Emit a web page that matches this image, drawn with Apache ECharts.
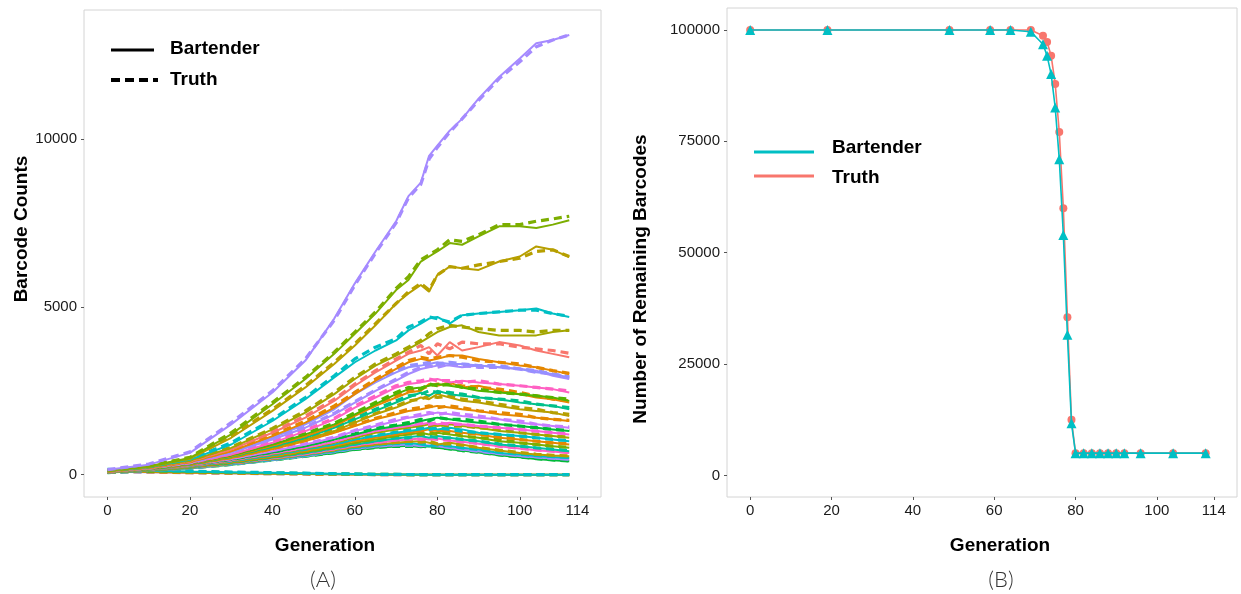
<!DOCTYPE html>
<html><head><meta charset="utf-8">
<script src="https://cdn.jsdelivr.net/npm/echarts@6/dist/echarts.min.js"></script>
<style>html,body{margin:0;padding:0;background:#fff}#c{width:1241px;height:594px}</style>
</head><body><div id="c"></div>
<script>
// ---------- Panel A data ----------
const generations = [0,10,20,30,40,48,55,60,65,70,73,76,78,80,83,86,90,95,100,104,108,112];
const barcodeColors = ['#A58AFF','#7CAE00','#B79F00','#00BFC4','#A3A500','#F8766D','#E58700','#9590FF','#A58AFF','#FF61C3','#53B400','#E58700','#00C08B','#B79F00','#E58700','#C77CFF','#00BA38','#FB61D7','#A3A500','#00BFC4','#E58700','#7CAE00','#00C1A3','#FF61C3','#B79F00','#00BFC4','#A58AFF','#00BA38','#00BFC4','#7CAE00','#E58700','#8F91FF'];
const bartenderCounts = [
 [150,300,650,1500,2450,3400,4650,5700,6650,7550,8300,8700,9500,9800,10250,10600,11200,11850,12400,12850,12950,13100],
 [130,250,500,1200,2100,2850,3600,4200,4800,5500,5800,6350,6500,6650,6900,6850,7100,7400,7400,7350,7450,7580],
 [120,240,480,1100,1900,2600,3300,3850,4450,5100,5400,5650,5450,5950,6200,6150,6100,6350,6500,6800,6700,6480],
 [120,230,450,900,1600,2250,2900,3350,3700,4000,4300,4500,4650,4700,4500,4750,4800,4850,4900,4950,4800,4700],
 [110,220,420,800,1350,1850,2400,2850,3250,3550,3750,3950,4100,4250,4400,4450,4250,4150,4150,4150,4250,4300],
 [110,210,400,750,1250,1700,2200,2650,3050,3400,3600,3700,3800,3550,3950,3700,3800,3950,3850,3700,3600,3500],
 [100,200,380,700,1150,1550,2000,2400,2800,3150,3350,3450,3400,3450,3550,3550,3450,3350,3250,3200,3100,3000],
 [100,200,370,680,1100,1500,1950,2400,2750,3050,3200,3250,3300,3350,3300,3300,3250,3200,3150,3050,3000,2900],
 [100,190,360,650,1050,1400,1800,2150,2500,2800,3000,3150,3200,3250,3250,3200,3250,3200,3150,3100,2950,2850],
 [100,190,350,600,950,1300,1650,2000,2300,2600,2700,2750,2800,2850,2750,2800,2750,2700,2650,2600,2550,2450],
 [95,180,340,580,900,1200,1500,1800,2100,2400,2550,2600,2650,2700,2650,2600,2500,2450,2400,2350,2300,2200],
 [95,180,330,560,870,1150,1450,1750,2050,2300,2450,2500,2700,2650,2750,2600,2650,2500,2400,2300,2250,2150],
 [90,170,320,540,830,1100,1400,1650,1900,2150,2300,2450,2350,2500,2400,2350,2300,2250,2150,2100,2050,1950],
 [90,170,310,520,800,1050,1300,1550,1800,2000,2150,2300,2250,2400,2300,2200,2150,2050,1950,1900,1850,1750],
 [90,165,300,500,760,1000,1250,1450,1650,1800,1900,1950,2000,2050,2000,1950,1900,1800,1750,1700,1650,1600],
 [85,160,290,470,700,900,1100,1300,1450,1600,1700,1750,1800,1850,1800,1750,1700,1650,1550,1500,1450,1400],
 [85,155,280,450,660,850,1050,1200,1350,1450,1500,1600,1650,1700,1650,1600,1550,1500,1450,1400,1350,1300],
 [85,150,270,430,630,800,980,1150,1300,1400,1450,1500,1550,1500,1550,1500,1450,1400,1350,1300,1250,1200],
 [80,145,260,420,610,780,950,1100,1250,1350,1400,1450,1500,1450,1500,1450,1400,1300,1250,1200,1150,1100],
 [80,140,250,400,580,750,900,1050,1150,1250,1300,1350,1400,1350,1400,1350,1250,1200,1150,1100,1050,1000],
 [80,140,240,380,550,710,860,1000,1100,1200,1250,1300,1350,1300,1300,1250,1200,1100,1050,1000,950,900],
 [75,135,230,360,530,680,820,950,1050,1150,1200,1250,1200,1250,1200,1150,1100,1000,950,900,850,800],
 [75,130,220,350,510,650,790,900,1000,1080,1120,1150,1100,1150,1100,1050,1000,900,850,800,750,700],
 [75,130,215,340,490,620,760,870,950,1020,1050,1080,1050,1080,1020,980,920,850,780,730,690,650],
 [70,125,210,330,470,600,730,830,900,950,980,1000,950,900,950,900,800,720,650,600,570,550],
 [70,120,200,320,450,580,700,800,870,920,950,900,850,900,850,800,750,650,600,560,530,500],
 [70,120,195,310,440,560,680,770,840,880,900,850,880,850,800,750,700,620,560,520,480,450],
 [65,115,190,300,430,540,650,740,800,840,860,820,850,800,760,720,660,580,520,470,430,400],
 [150,120,95,75,55,40,28,20,12,8,5,3,2,1,0,0,0,0,0,0,0,0],
 [120,100,80,60,45,32,22,15,10,6,4,2,1,0,0,0,0,0,0,0,0,0],
 [100,80,60,45,30,20,12,8,4,2,1,0,0,0,0,0,0,0,0,0,0,0],
 [90,70,55,40,28,18,12,7,4,2,1,0,0,0,0,0,0,0,0,0,0,0]
];
const truthCounts = [
 [150,320,680,1550,2500,3450,4600,5650,6600,7500,8250,8650,9400,9750,10200,10600,11150,11800,12300,12750,12950,13100],
 [130,260,520,1250,2150,2900,3650,4250,4850,5550,5900,6400,6550,6700,7000,6950,7150,7450,7450,7550,7620,7700],
 [120,250,490,1150,1950,2650,3350,3900,4500,5100,5450,5700,5500,5950,6200,6150,6250,6350,6450,6650,6700,6500],
 [120,240,470,950,1650,2300,2950,3450,3800,4050,4400,4550,4700,4650,4550,4750,4800,4850,4900,4900,4800,4720],
 [110,225,430,820,1380,1900,2450,2900,3300,3600,3800,4000,4200,4350,4450,4400,4350,4300,4300,4250,4300,4300],
 [110,215,410,770,1280,1750,2250,2700,3100,3450,3650,3850,3600,3900,3750,3950,3900,3900,3800,3750,3700,3620],
 [100,205,390,720,1180,1600,2050,2450,2850,3200,3400,3500,3450,3500,3550,3500,3400,3350,3300,3200,3100,3020],
 [100,205,380,700,1130,1550,2000,2450,2800,3100,3250,3300,3350,3300,3350,3300,3250,3250,3150,3100,3000,2920],
 [100,195,365,660,1070,1420,1830,2180,2520,2850,3050,3200,3250,3200,3300,3250,3200,3200,3150,3050,3000,2880],
 [100,195,355,620,980,1330,1680,2050,2350,2650,2750,2800,2850,2800,2800,2750,2800,2700,2650,2600,2550,2500],
 [95,185,345,590,920,1230,1530,1850,2150,2450,2600,2550,2700,2650,2700,2600,2550,2450,2400,2350,2300,2250],
 [95,185,335,570,880,1170,1480,1780,2080,2350,2500,2550,2650,2700,2700,2650,2600,2550,2450,2350,2250,2200],
 [90,175,325,550,850,1120,1420,1680,1950,2200,2350,2400,2500,2450,2450,2400,2300,2250,2200,2100,2050,2000],
 [90,175,315,530,820,1070,1320,1580,1820,2050,2200,2250,2350,2300,2350,2250,2200,2100,2000,1950,1850,1800],
 [90,170,305,510,780,1020,1270,1480,1680,1850,1950,2000,2050,2000,2050,2000,1900,1850,1800,1700,1650,1620],
 [85,165,295,480,720,920,1120,1320,1480,1650,1720,1800,1850,1800,1850,1800,1750,1650,1600,1500,1450,1420],
 [85,160,285,460,670,870,1070,1220,1380,1480,1550,1650,1600,1700,1650,1650,1600,1500,1450,1400,1350,1320],
 [85,155,275,440,640,820,1000,1170,1320,1420,1480,1550,1500,1550,1500,1500,1450,1400,1350,1300,1250,1220],
 [80,150,265,430,620,800,970,1120,1270,1380,1430,1500,1450,1500,1450,1450,1400,1350,1250,1200,1150,1120],
 [80,145,255,410,590,760,920,1070,1170,1270,1330,1400,1350,1400,1350,1300,1250,1200,1150,1100,1050,1020],
 [80,145,245,390,560,720,880,1020,1120,1220,1280,1320,1300,1350,1300,1250,1200,1150,1050,1000,950,920],
 [75,140,235,370,540,690,830,960,1070,1170,1220,1200,1250,1200,1250,1150,1100,1050,950,900,850,820],
 [75,135,225,355,520,660,800,910,1010,1100,1100,1180,1150,1100,1100,1050,1000,920,850,800,760,720],
 [75,135,220,345,500,630,770,880,960,1040,1070,1050,1080,1050,1020,980,930,850,790,740,700,660],
 [70,130,215,335,480,610,740,840,910,960,1000,970,1000,920,920,880,810,730,660,610,580,560],
 [70,125,205,325,460,590,710,810,880,930,920,930,870,880,860,800,750,670,610,570,540,510],
 [70,125,200,315,450,570,690,780,850,890,880,880,860,870,810,760,700,630,570,530,490,460],
 [65,120,195,305,440,550,660,750,810,850,840,850,830,820,770,720,670,590,530,480,440,410],
 [160,130,105,80,60,45,30,22,14,9,6,4,2,1,0,0,0,0,0,0,0,0],
 [130,105,85,65,50,36,25,17,11,7,4,2,1,0,0,0,0,0,0,0,0,0],
 [105,85,62,47,32,21,13,8,5,2,1,0,0,0,0,0,0,0,0,0,0,0],
 [95,75,58,42,30,20,13,8,5,3,1,0,0,0,0,0,0,0,0,0,0,0]
];
const xTickValues = [0,20,40,60,80,100,114];
const yTicksA = [0,5000,10000];

// ---------- Panel B data ----------
const generationsB = [0,19,49,59,64,69,72,73,74,75,76,77,78,79,80,82,84,86,88,90,92,96,104,112];
const bartenderRemaining = [100000,100000,100000,100000,100000,99600,96800,94200,90100,82600,71000,54000,31600,11700,5000,5000,5000,5000,5000,5000,5000,5000,5000,5000];
const truthRemaining = [100000,100000,100000,100000,100000,100000,98700,97300,94200,87900,77100,60000,35500,12500,5000,5000,5000,5000,5000,5000,5000,5000,5000,5000];
const yTicksB = [0,25000,50000,75000,100000];

const FONT = "'Liberation Sans', Arial, Helvetica, sans-serif";
const chart = echarts.init(document.getElementById('c'), null, {renderer:'canvas'});

function pairs(xs, ys){ return xs.map((x,i)=>[x, ys[i]]); }

const series = [];
for (let k = barcodeColors.length - 1; k >= 0; k--) {
  series.push({type:'line', xAxisIndex:0, yAxisIndex:0, data:pairs(generations, bartenderCounts[k]),
    showSymbol:false, silent:true, lineStyle:{color:barcodeColors[k], width:2}, z:2});
  series.push({type:'line', xAxisIndex:0, yAxisIndex:0, data:pairs(generations, truthCounts[k]),
    showSymbol:false, silent:true, lineStyle:{color:barcodeColors[k], width:3.2, type:[8,5]}, z:2});
}
series.push({type:'line', xAxisIndex:1, yAxisIndex:1, data:pairs(generationsB, truthRemaining),
  symbol:'circle', symbolSize:8, itemStyle:{color:'#F8766D'}, lineStyle:{color:'#F8766D', width:1.6}, silent:true, z:3});
series.push({type:'line', xAxisIndex:1, yAxisIndex:1, data:pairs(generationsB, bartenderRemaining),
  symbol:'triangle', symbolSize:10, itemStyle:{color:'#00BFC4'}, lineStyle:{color:'#00BFC4', width:1.6}, silent:true, z:4});

const plain = v => String(Math.round(v));
function xAxis(gi){
  return {type:'value', gridIndex:gi, min:-5.7, max:119.7, position:'bottom',
    axisLine:{show:false, onZero:false}, splitLine:{show:false},
    axisTick:{show:true, customValues:xTickValues, length:3, lineStyle:{color:'#555'}},
    axisLabel:{customValues:xTickValues, fontSize:15, color:'#1a1a1a', margin:6, fontFamily:FONT, formatter:plain}};
}
function yAxis(gi, mn, mx, ticks){
  return {type:'value', gridIndex:gi, min:mn, max:mx, position:'left',
    axisLine:{show:false, onZero:false}, splitLine:{show:false},
    axisTick:{show:true, customValues:ticks, length:3, lineStyle:{color:'#555'}},
    axisLabel:{customValues:ticks, fontSize:15, color:'#1a1a1a', margin:7, fontFamily:FONT, formatter:plain}};
}
function txt(x, y, text, size, weight, rot, align, color, family){
  return {type:'text', x:x, y:y, rotation:rot||0, silent:true, z:10,
    style:{text:text, font:(weight||'bold')+' '+size+'px '+(family||FONT), fill:color||'#000', align:align||'center', verticalAlign:'middle'}};
}
function seg(x1,y1,x2,y2,color,w,dash){
  return {type:'line', silent:true, z:10, shape:{x1:x1,y1:y1,x2:x2,y2:y2},
    style:{stroke:color, lineWidth:w, lineDash:dash||null}};
}

chart.setOption({
  animation:false,
  backgroundColor:'#ffffff',
  grid:[
    {left:84, top:10, width:517, height:487, show:true, borderColor:'#d4d4d4', borderWidth:1, backgroundColor:'transparent'},
    {left:727, top:8, width:510, height:489, show:true, borderColor:'#d4d4d4', borderWidth:1, backgroundColor:'transparent'}
  ],
  xAxis:[xAxis(0), xAxis(1)],
  yAxis:[yAxis(0,-664,13843,yTicksA), yAxis(1,-4846,104936,yTicksB)],
  series:series,
  graphic:[
    txt(325, 546, 'Generation', 19),
    txt(1000, 546, 'Generation', 19),
    txt(22, 229, 'Barcode Counts', 19, 'bold', Math.PI/2),
    txt(641, 279, 'Number of Remaining Barcodes', 19, 'bold', Math.PI/2),
    txt(323, 580, '(A)', 22, '300', 0, 'center', '#333', "Lato, 'Open Sans', sans-serif"),
    txt(1001, 580, '(B)', 22, '300', 0, 'center', '#333', "Lato, 'Open Sans', sans-serif"),
    seg(111, 50, 154, 50, '#000', 3),
    seg(111, 80, 158, 80, '#000', 4, [9,5]),
    txt(170, 49, 'Bartender', 19, 'bold', 0, 'left'),
    txt(170, 80, 'Truth', 19, 'bold', 0, 'left'),
    seg(754, 152, 814, 152, '#00BFC4', 3),
    seg(754, 176, 814, 176, '#F8766D', 3),
    txt(832, 148, 'Bartender', 19, 'bold', 0, 'left'),
    txt(832, 178, 'Truth', 19, 'bold', 0, 'left')
  ]
});
</script></body></html>
